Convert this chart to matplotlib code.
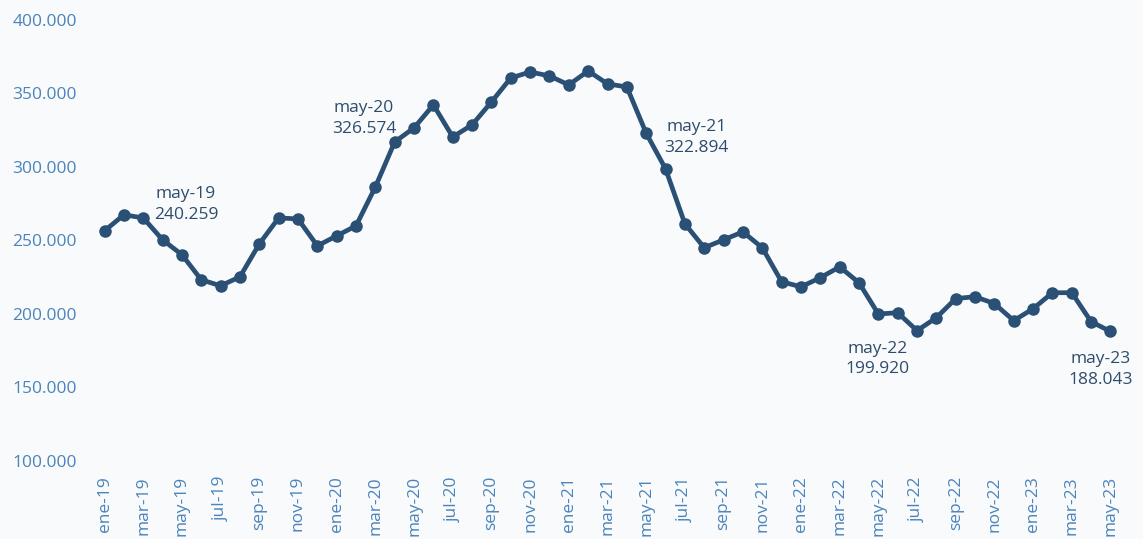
import matplotlib.pyplot as plt
from matplotlib.ticker import FuncFormatter

# Monthly values, ene-19 .. may-23
meses = ["ene", "feb", "mar", "abr", "may", "jun", "jul", "ago", "sep", "oct", "nov", "dic"]
labels = [f"{meses[i % 12]}-{19 + i // 12}" for i in range(53)]
values = [
    256500, 267400, 265300, 250400, 240259, 223200, 219100, 225200, 247600, 265300, 264600, 246300,
    253100, 259900, 286400, 317000, 326574, 342200, 320400, 328600, 344200, 360500, 364600, 361900,
    355800, 365300, 356500, 354400, 322894, 298700, 261300, 245000, 250400, 255800, 245000, 221900,
    218400, 224600, 232000, 221200, 199920, 200800, 188600, 197400, 210400, 211700, 207000, 195400,
    203500, 214400, 214400, 194700, 188043,
]
# annotated points: index, offset in pixels (dx, dy)
notes = [(4, (4, 50)), (16, (-50, 9)), (28, (50, -4)), (40, (-1, -45)), (52, (-10, -38))]

line_c = "#2a5075"
tick_c = "#4a84bb"
text_c = "#2e4c6d"
bg = "#f9fafb"

def miles(v, pos):
    return f"{v:,.0f}".replace(",", ".")

fig = plt.figure(figsize=(11.43, 5.39), dpi=100, facecolor=bg)
ax = fig.add_axes([0.083, 0.145, 0.897, 0.818], facecolor=bg)

x = list(range(len(values)))
ax.plot(x, values, color=line_c, lw=3.4, marker="o", ms=8, solid_joinstyle="round")

for i, (dx, dy) in notes:
    ax.annotate(f"{labels[i]}\n{miles(values[i], None)}", (i, values[i]),
                xytext=(dx, dy), textcoords="offset pixels", ha="center", va="center",
                fontsize=12.5, color=text_c, linespacing=1.4, family="Open Sans")

ax.set_xlim(-0.5, len(values) - 0.5)
ax.set_ylim(100000, 400000)
ax.set_yticks(range(100000, 400001, 50000))
ax.yaxis.set_major_formatter(FuncFormatter(miles))
ax.set_xticks(x[::2])
ax.set_xticklabels(labels[::2], rotation=90)
for s in ax.spines.values():
    s.set_visible(False)
ax.tick_params(length=0, colors=tick_c, labelsize=12.5)
ax.tick_params(axis="y", pad=13)
ax.tick_params(axis="x", pad=11)
for t in ax.get_xticklabels() + ax.get_yticklabels():
    t.set_family("Open Sans")

fig.savefig("out.png", dpi=100, facecolor=bg)
